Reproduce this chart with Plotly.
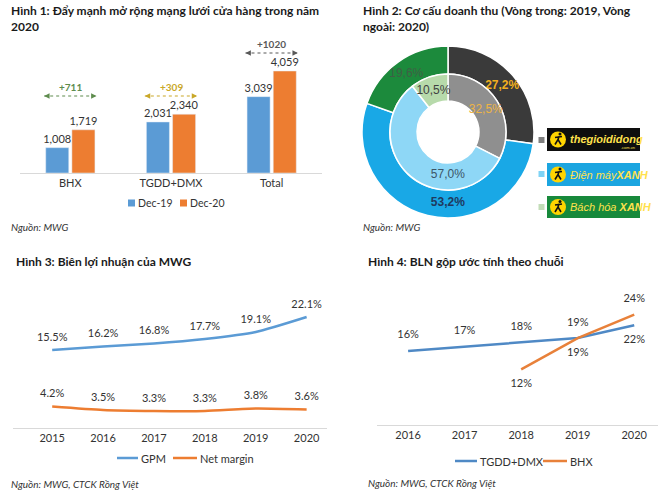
import plotly.graph_objects as go

W, H = 660, 492


def fx(x):
    return x / W


def fy(y):
    return 1 - y / H


# ---------------- data ----------------
# Panel 1: store network
store_cats = ["BHX", "TGDD+DMX", "Total"]
stores_dec19 = [1008, 2031, 3039]
stores_dec20 = [1719, 2340, 4059]

# Panel 2: revenue structure (inner 2019, outer 2020)
rev_segments = ["thegioididong", "Điện máy XANH", "Bách hóa XANH"]
rev_2019 = [32.5, 57.0, 10.5]
rev_2020 = [27.2, 53.2, 19.6]

# Panel 3: MWG margins
years3 = ["2015", "2016", "2017", "2018", "2019", "2020"]
gpm = [15.5, 16.2, 16.8, 17.7, 19.1, 22.1]
net_margin = [4.2, 3.5, 3.3, 3.3, 3.8, 3.6]

# Panel 4: gross margin by chain
years4 = ["2016", "2017", "2018", "2019", "2020"]
gm_tgdd = [16.1, 17.0, 17.9, 18.9, 21.7]
gm_bhx = [None, None, 12.1, 18.9, 24.0]

FONT = "Lato"
TXT = "#333333"
BLUE = "#5B9BD5"
ORANGE = "#ED7D31"
BLUE4 = "#4F89C5"
ORANGE4 = "#E8813A"

fig = go.Figure()

# ---------------- panel 1: bars ----------------
for vals, name, col in ((stores_dec19, "Dec-19", BLUE), (stores_dec20, "Dec-20", ORANGE)):
    fig.add_trace(go.Bar(
        x=store_cats, y=vals, name=name, marker_color=col,
        text=vals, texttemplate="%{y:,}", textposition="outside",
        textfont=dict(size=11, color=TXT), cliponaxis=False,
        xaxis="x", yaxis="y", showlegend=False, hoverinfo="skip"))

# ---------------- panel 2: donut ----------------
def fmt_comma(v):
    return f"{v:.1f}".replace(".", ",") + "%"

outer_colors = ["#3A3A3A", "#19A8E6", "#1C8A3C"]
inner_colors = ["#8F8F8F", "#8ED7F6", "#B7DAAB"]
outer_text = [f"<b>{fmt_comma(rev_2020[0])}</b>", f"<b>{fmt_comma(rev_2020[1])}</b>",
              fmt_comma(rev_2020[2])]
inner_text = [fmt_comma(v) for v in rev_2019]

cx, cy, r_out, r_mid, r_in = 448, 132, 86, 58, 31
fig.add_trace(go.Pie(
    labels=rev_segments, values=rev_2020, sort=False, direction="clockwise",
    rotation=0, hole=r_mid / r_out, text=outer_text, textinfo="text",
    textposition="inside", insidetextorientation="horizontal",
    textfont=dict(size=12, family="Liberation Sans",
                  color=["#F2B01E", "#1F3A5F", "#3F5F45"]),
    marker=dict(colors=outer_colors, line=dict(color="white", width=1.5)),
    domain=dict(x=[fx(cx - r_out), fx(cx + r_out)], y=[fy(cy + r_out), fy(cy - r_out)]),
    showlegend=False, hoverinfo="skip"))
fig.add_trace(go.Pie(
    labels=rev_segments, values=rev_2019, sort=False, direction="clockwise",
    rotation=0, hole=r_in / r_mid, text=inner_text, textinfo="text",
    textposition="inside", insidetextorientation="horizontal",
    textfont=dict(size=12, family="Liberation Sans",
                  color=["#EDB445", "#3D5566", "#404040"]),
    marker=dict(colors=inner_colors, line=dict(color="white", width=1.5)),
    domain=dict(x=[fx(cx - r_mid), fx(cx + r_mid)], y=[fy(cy + r_mid), fy(cy - r_mid)]),
    showlegend=False, hoverinfo="skip"))

# ---------------- panel 3: margins ----------------
for vals, name, col in ((gpm, "GPM", BLUE), (net_margin, "Net margin", ORANGE)):
    fig.add_trace(go.Scatter(
        x=years3, y=vals, name=name, mode="lines+markers+text",
        line=dict(color=col, width=2.5, shape="spline", smoothing=0.6),
        marker=dict(size=9, opacity=0),
        text=[f"{v:.1f}%" for v in vals], textposition="top center",
        textfont=dict(size=11, color=TXT), cliponaxis=False,
        xaxis="x3", yaxis="y3", showlegend=False, hoverinfo="skip"))

# ---------------- panel 4: gross margin by chain ----------------
fig.add_trace(go.Scatter(
    x=years4, y=gm_tgdd, name="TGDD+DMX", mode="lines+markers+text",
    line=dict(color=BLUE4, width=2.5),
    marker=dict(size=14, opacity=0),
    text=[f"{v:.0f}%" for v in gm_tgdd],
    textposition=["top center"] * 4 + ["bottom center"],
    textfont=dict(size=11, color=TXT), cliponaxis=False,
    xaxis="x4", yaxis="y4", showlegend=False, hoverinfo="skip"))
fig.add_trace(go.Scatter(
    x=years4, y=gm_bhx, name="BHX", mode="lines+markers+text",
    line=dict(color=ORANGE4, width=2.5),
    marker=dict(size=14, opacity=0),
    text=["" if v is None else f"{v:.0f}%" for v in gm_bhx],
    textposition=["bottom center"] * 4 + ["top center"],
    textfont=dict(size=11, color=TXT), cliponaxis=False,
    xaxis="x4", yaxis="y4", showlegend=False, hoverinfo="skip"))

# ---------------- axes ----------------
axis_line = "#D9D9D9"
tickf = dict(size=11, color=TXT, family=FONT)

fig.update_layout(
    xaxis=dict(domain=[fx(20), fx(322)], showline=True, linecolor=axis_line, linewidth=1,
               showgrid=False, ticks="", tickfont=tickf, fixedrange=True),
    yaxis=dict(domain=[fy(173), fy(40)], range=[0, 5293], visible=False, fixedrange=True),
    xaxis3=dict(domain=[fx(13), fx(327)], anchor="y3", type="category", range=[-0.77, 5.4],
                showline=True, linecolor=axis_line, linewidth=1, showgrid=False, ticks="",
                tickfont=tickf, fixedrange=True),
    yaxis3=dict(domain=[fy(427.5), fy(290)], anchor="x3", range=[0, 27.5], visible=False,
                fixedrange=True),
    xaxis4=dict(domain=[fx(377), fx(658)], anchor="y4", type="category", range=[-0.55, 4.42],
                showline=True, linecolor=axis_line, linewidth=1, showgrid=False, ticks="",
                tickfont=tickf, fixedrange=True),
    yaxis4=dict(domain=[fy(425), fy(290)], anchor="x4", range=[0, 29.35], visible=False,
                fixedrange=True),
    barmode="group", bargap=0.48, bargroupgap=0.12,
)

annotations = []
shapes = []

def ptext(x, y, text, font, xanchor="left", yanchor="middle"):
    annotations.append(dict(x=fx(x), y=fy(y), xref="paper", yref="paper", text=text,
                            showarrow=False, xanchor=xanchor, yanchor=yanchor, align="left",
                            font=font))

# titles
title_font = dict(size=12, color="#1A1A1A", family=FONT, weight="bold")
ptext(9, 1, "Hình 1: Đẩy mạnh mở rộng mạng lưới cửa hàng trong năm<br>2020", title_font,
      yanchor="top")
ptext(361, 1, "Hình 2: Cơ cấu doanh thu (Vòng trong: 2019, Vòng<br>ngoài: 2020)", title_font,
      yanchor="top")
ptext(14, 252, "Hình 3: Biên lợi nhuận của MWG", title_font, yanchor="top")
ptext(366, 252, "Hình 4: BLN gộp ước tính theo chuỗi", title_font, yanchor="top")

# sources
src_font = dict(size=10, color="#333333", family=FONT, style="italic")
ptext(9, 227, "Nguồn: MWG", src_font)
ptext(361, 227, "Nguồn: MWG", src_font)
ptext(9, 484, "Nguồn: MWG, CTCK Rồng Việt", src_font)
ptext(366, 483, "Nguồn: MWG, CTCK Rồng Việt", src_font)

# manual legends
def leg_square(x, y, col, label):
    shapes.append(dict(type="rect", xref="paper", yref="paper", x0=fx(x), x1=fx(x + 7),
                       y0=fy(y + 3.5), y1=fy(y - 3.5), fillcolor=col, line=dict(width=0)))
    ptext(x + 8, y, label, dict(size=10.5, color=TXT, family=FONT))

def leg_line(x0, x1, y, col, label):
    shapes.append(dict(type="line", xref="paper", yref="paper", x0=fx(x0), x1=fx(x1),
                       y0=fy(y), y1=fy(y), line=dict(color=col, width=2.5)))
    ptext(x1 + 1, y, label, dict(size=11, color=TXT, family=FONT))

leg_square(128, 203, BLUE, "Dec-19")
leg_square(180, 203, ORANGE, "Dec-20")
leg_line(117, 138, 458, BLUE, "GPM")
leg_line(173, 197, 458, ORANGE, "Net margin")
leg_line(455, 477, 461, BLUE4, "TGDD+DMX")
leg_line(543, 567, 461, ORANGE4, "BHX")

# change arrows in panel 1 (labels computed from data)
arrow_specs = [
    (0, 96, "#5E8C4E"),
    (1, 96, "#C9A829"),
    (2, 53, "#595959"),
]
half = 0.26
for idx, ypx, col in arrow_specs:
    diff = stores_dec20[idx] - stores_dec19[idx]
    x0, x1 = idx - half, idx + half
    shapes.append(dict(type="line", xref="x", yref="paper", x0=x0, x1=x1,
                       y0=fy(ypx), y1=fy(ypx), line=dict(color=col, width=1.2, dash="dot")))
    for xe, ax in ((x0, 5), (x1, -5)):
        annotations.append(dict(x=xe, y=fy(ypx), xref="x", yref="paper", ax=ax, ay=0,
                                showarrow=True, arrowhead=2, arrowsize=0.9, arrowwidth=1.2,
                                arrowcolor=col, text=""))
    annotations.append(dict(x=idx, y=fy(ypx - 9), xref="x", yref="paper", text=f"+{diff}",
                            showarrow=False, yanchor="middle",
                            font=dict(size=10, color=col, family=FONT, weight="bold")))

# donut legend: squares + logo boxes
legend_rows = [
    (140, "#7F7F7F", "#0E0E0E", 128, 151),
    (174, "#7FD3F5", "#1BA5E0", 163, 186),
    (207, "#C3DDB8", "#17893B", 196, 218),
]
for sq_y, sq_col, box_col, by0, by1 in legend_rows:
    shapes.append(dict(type="rect", xref="paper", yref="paper", x0=fx(538.5), x1=fx(544.5),
                       y0=fy(sq_y + 3), y1=fy(sq_y - 3), fillcolor=sq_col, line=dict(width=0)))
    shapes.append(dict(type="rect", xref="paper", yref="paper", x0=fx(547), x1=fx(640),
                       y0=fy(by1), y1=fy(by0), fillcolor=box_col, line=dict(width=0)))
    ymid = (by0 + by1) / 2
    shapes.append(dict(type="circle", xref="paper", yref="paper", x0=fx(550), x1=fx(566),
                       y0=fy(ymid + 8), y1=fy(ymid - 8), fillcolor="#FFD400",
                       line=dict(width=0)))
    # tiny runner pictogram inside the yellow circle
    shapes.append(dict(type="path", xref="paper", yref="paper",
                       path=(f"M {fx(555)} {fy(ymid + 5)} L {fx(558)} {fy(ymid)} "
                             f"L {fx(561)} {fy(ymid + 5)} M {fx(558)} {fy(ymid)} "
                             f"L {fx(559)} {fy(ymid - 3)} M {fx(555)} {fy(ymid - 2)} "
                             f"L {fx(562)} {fy(ymid - 3)}"),
                       line=dict(color="#111111", width=1.6)))
    shapes.append(dict(type="circle", xref="paper", yref="paper", x0=fx(558.5), x1=fx(561.5),
                       y0=fy(ymid - 4), y1=fy(ymid - 7), fillcolor="#111111",
                       line=dict(width=0)))

logo_font = dict(family="Liberation Sans", color="#FFE14D")
ptext(568, 139.5, "<b><i>thegioididong</i></b>", dict(size=11, **logo_font))
ptext(637, 147.5, ".com.vn", dict(size=4, **logo_font), xanchor="right")
ptext(568, 174.5, "<i>Điện máy</i><b><i>XANH</i></b>", dict(size=11, **logo_font))
ptext(568, 207, "<i>Bách hóa </i><b><i>XANH</i></b>", dict(size=11, **logo_font))

fig.update_layout(
    width=W, height=H, autosize=False,
    margin=dict(l=0, r=0, t=0, b=0),
    paper_bgcolor="white", plot_bgcolor="white",
    font=dict(family=FONT, color=TXT),
    uniformtext=dict(minsize=11, mode="show"),
    annotations=annotations, shapes=shapes,
)

fig.write_html("out.html", config={"displayModeBar": False},
               post_script="document.body.style.margin='0px';")
